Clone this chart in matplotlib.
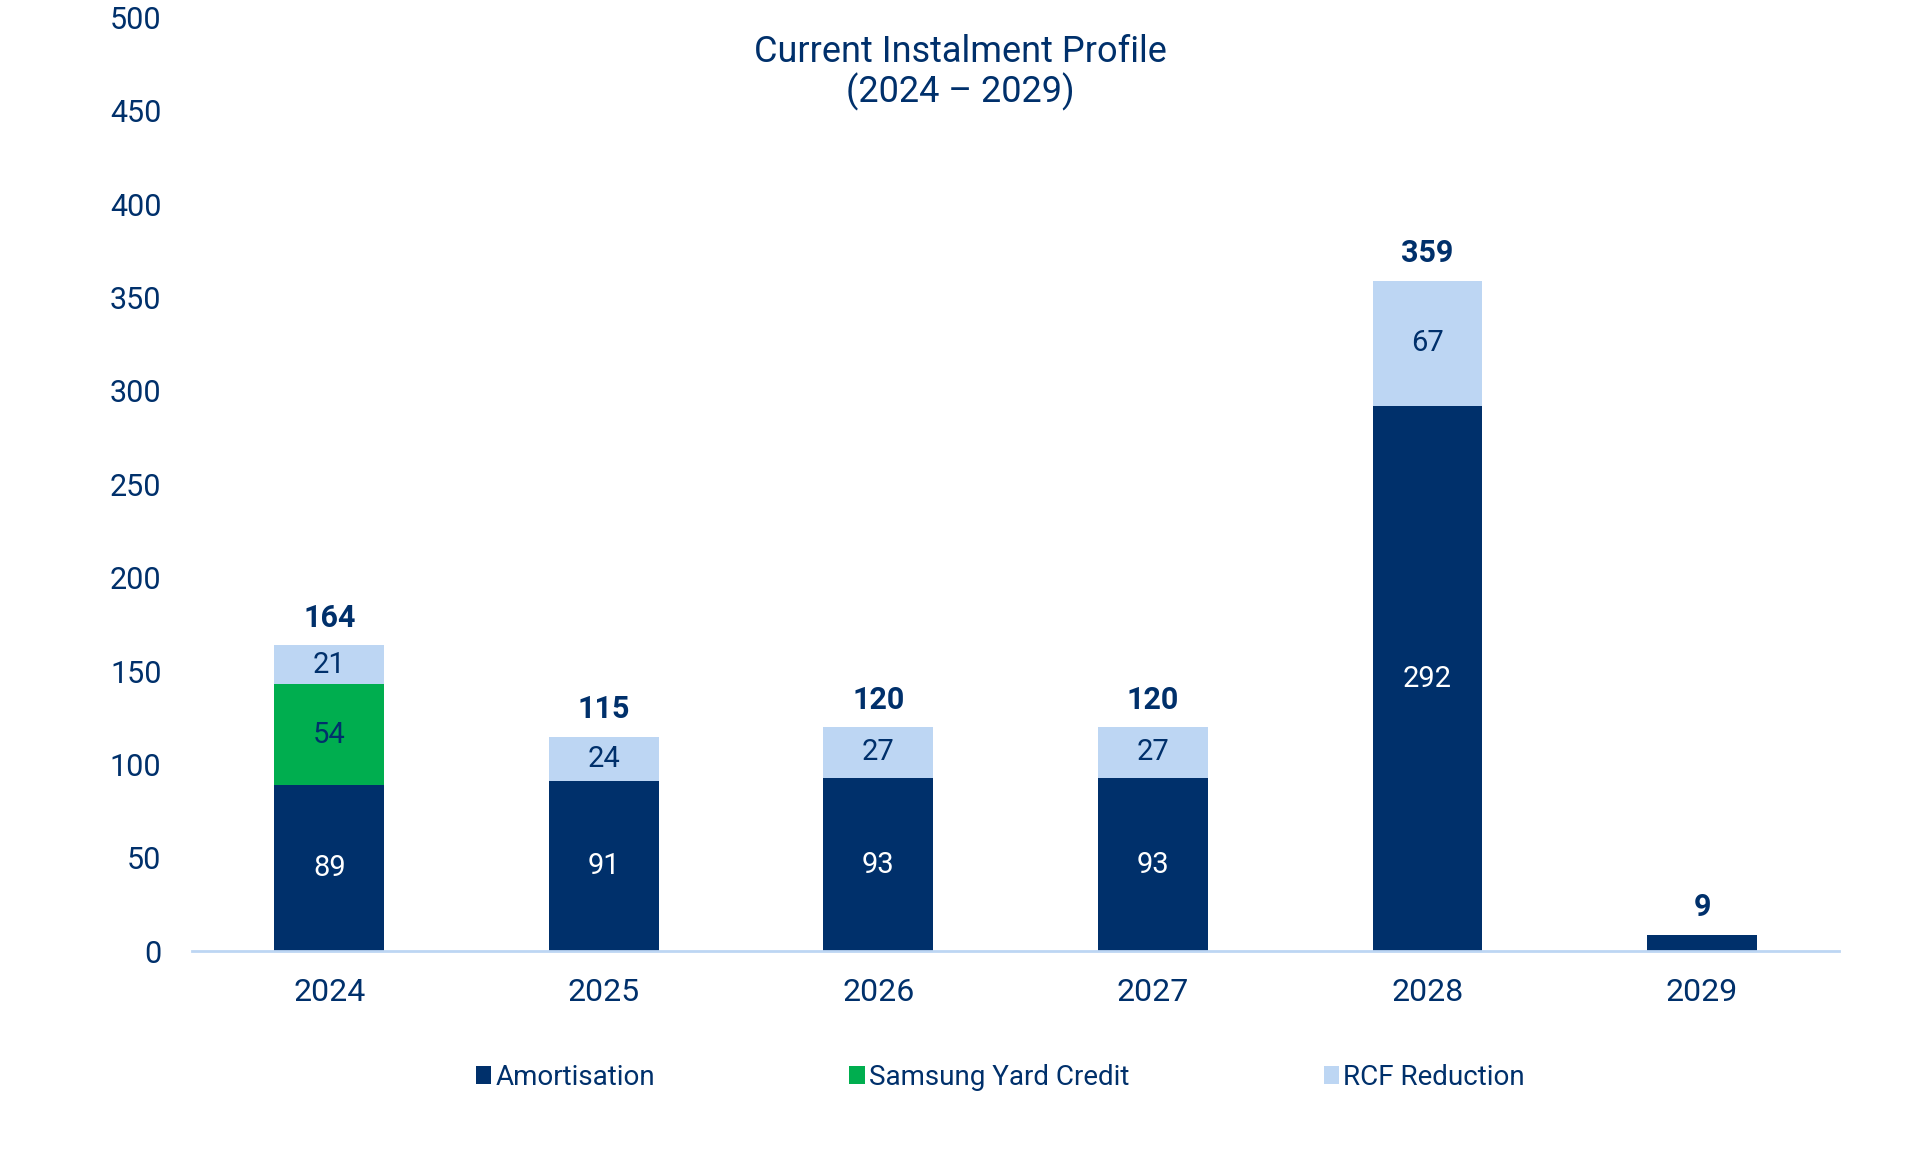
import numpy as np
import matplotlib
matplotlib.use("Agg")
import matplotlib.pyplot as plt
from matplotlib.patches import Patch

plt.rcParams["font.family"] = ["Roboto", "DejaVu Sans"]

years = ["2024", "2025", "2026", "2027", "2028", "2029"]
amortisation = [89, 91, 93, 93, 292, 9]
samsung_yard = [54, 0, 0, 0, 0, 0]
rcf_reduction = [21, 24, 27, 27, 67, 0]
totals = [164, 115, 120, 120, 359, 9]

navy = "#00306B"
green = "#00AE4F"
light = "#BDD6F3"

fig = plt.figure(figsize=(19.2, 11.56), dpi=100)
ax = fig.add_axes([0.1, 0.177, 0.858, 0.808])

x = np.arange(len(years))
w = 0.4
series = [("Amortisation", amortisation, navy, "white"),
          ("Samsung Yard Credit", samsung_yard, green, navy),
          ("RCF Reduction", rcf_reduction, light, navy)]

bottom = np.zeros(len(years))
for name, vals, col, tcol in series:
    vals = np.array(vals, dtype=float)
    ax.bar(x, vals, w, bottom=bottom, color=col, label=name, zorder=2)
    for xi, b, v in zip(x, bottom, vals):
        if v >= 15:
            ax.text(xi, b + v / 2, f"{int(v)}", ha="center", va="center",
                    color=tcol, fontsize=21)
    bottom += vals

for xi, t in zip(x, totals):
    ax.annotate(f"{t}", (xi, t), xytext=(0, 9), textcoords="offset points",
                ha="center", va="bottom", fontsize=22, fontweight="bold", color=navy)

ax.set_xlim(-0.5, len(years) - 0.5)
ax.set_ylim(0, 500)
ax.set_yticks(np.arange(0, 501, 50))
ax.set_xticks(x)
ax.set_xticklabels(years)
ax.tick_params(axis="y", length=0, pad=22, labelsize=22, labelcolor=navy)
ax.tick_params(axis="x", length=0, pad=19, labelsize=23, labelcolor=navy)
for s in ["top", "right", "left"]:
    ax.spines[s].set_visible(False)
ax.spines["bottom"].set_color(light)
ax.spines["bottom"].set_linewidth(2)

fig.text(0.5, 0.937, "Current Instalment Profile\n(2024 \u2013 2029)", ha="center", va="center",
         fontsize=26, color=navy, linespacing=1.1)

handles = [Patch(facecolor=c, edgecolor="none") for _, _, c, _ in series]
leg = fig.legend(handles, [s[0] for s in series], loc="center", bbox_to_anchor=(0.521, 0.068),
                 ncol=3, frameon=False, fontsize=20, handlelength=0.55, handleheight=0.6,
                 handletextpad=0.15, columnspacing=7.0)
for t in leg.get_texts():
    t.set_color(navy)

fig.savefig("out.png", dpi=100, facecolor="white")
